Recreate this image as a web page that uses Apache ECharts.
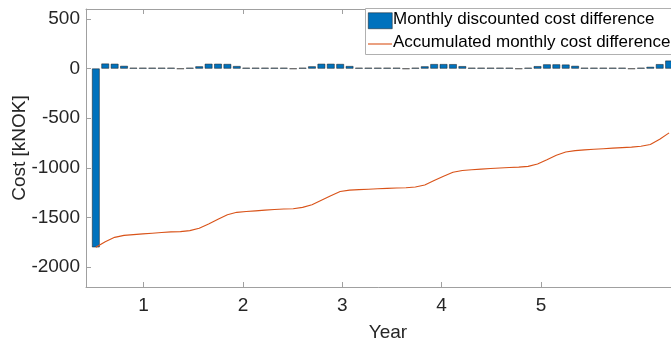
<!DOCTYPE html>
<html>
<head>
<meta charset="utf-8">
<script src="https://cdn.jsdelivr.net/npm/echarts@6/dist/echarts.min.js"></script>
<style>html,body{margin:0;padding:0;background:#fff;}#c{width:671px;height:341px;}</style>
</head>
<body>
<div id="c"></div>
<script>
// Monthly discounted cost difference (kNOK), one value per bar
const monthlyDiff = [-1800, 50, 48, 27, 8, 8, 8, 8, 8, -3, 8, 22,
  48, 48, 46, 25, 8, 8, 8, 8, 8, -3, 8, 22,
  48, 48, 46, 25, 8, 8, 8, 8, 8, -3, 8, 22,
  45, 45, 44, 24, 8, 8, 8, 8, 8, -3, 8, 24,
  42, 42, 40, 27, 8, 8, 8, 8, 8, -3, 8, 17, 44, 80];
// Accumulated monthly cost difference (kNOK)
const accumulated = [-1800, -1745, -1700, -1680, -1672, -1665, -1658, -1651, -1645, -1642, -1632, -1608,
  -1565, -1518, -1472, -1448, -1440, -1433, -1426, -1420, -1415, -1412, -1398, -1372,
  -1326, -1280, -1238, -1224, -1219, -1215, -1211, -1207, -1203, -1201, -1193, -1172,
  -1128, -1084, -1045, -1026, -1019, -1013, -1007, -1001, -996, -993, -985, -962,
  -918, -873, -840, -826, -819, -813, -807, -801, -796, -791, -783, -765, -712, -648];
// Axis ticks
const xTicks = [1, 2, 3, 4, 5];
const yTicks = [-2000, -1500, -1000, -500, 0, 500];
// Time of first sample and spacing between samples (in axis "Year" units)
const xStart = 0.519;
const xStep = 0.0946;

const xs = monthlyDiff.map((_, i) => xStart + i * xStep);
const barData = monthlyDiff.map((v, i) => [xs[i], v]);
const lineData = accumulated.map((v, i) => [xs[i], v]);

const axisGray = '#a0a0a0';
const txt = '#262626';
const font = 'Liberation Sans, Arial, Helvetica, sans-serif';

const chart = echarts.init(document.getElementById('c'), null, {renderer: 'canvas'});
chart.setOption({
  animation: false,
  backgroundColor: '#fff',
  grid: {left: 86, top: 9, width: 604, height: 278, containLabel: false, outerBoundsMode: 'none'},
  xAxis: [{
    type: 'value', min: 0.42, max: 6.5, position: 'bottom',
    name: 'Year', nameLocation: 'middle', nameGap: 36, nameMoveOverlap: false,
    nameTextStyle: {color: txt, fontSize: 19, fontFamily: font},
    axisLine: {show: true, onZero: false, lineStyle: {color: axisGray, width: 1}},
    axisTick: {show: true, inside: true, length: 5, customValues: xTicks, lineStyle: {color: axisGray}},
    axisLabel: {customValues: xTicks, color: txt, fontSize: 19, fontFamily: font, margin: 9, formatter: v => String(v)},
    splitLine: {show: false}
  }, {
    type: 'value', min: 0.42, max: 6.5, position: 'top',
    axisLine: {show: true, onZero: false, lineStyle: {color: axisGray, width: 1}},
    axisTick: {show: true, inside: true, length: 5, customValues: xTicks, lineStyle: {color: axisGray}},
    axisLabel: {show: false},
    splitLine: {show: false}
  }],
  yAxis: [{
    type: 'value', min: -2200, max: 600,
    name: 'Cost [kNOK]', nameLocation: 'middle', nameGap: 57, nameMoveOverlap: false,
    nameTextStyle: {color: txt, fontSize: 19, fontFamily: font},
    axisLine: {show: true, onZero: false, lineStyle: {color: axisGray, width: 1}},
    axisTick: {show: true, inside: true, length: 5, customValues: yTicks, lineStyle: {color: axisGray}},
    axisLabel: {customValues: yTicks, color: txt, fontSize: 19, fontFamily: font, margin: 6, formatter: v => String(v)},
    splitLine: {show: false}
  }],
  series: [{
    name: 'Monthly discounted cost difference',
    type: 'bar', xAxisIndex: 0, yAxisIndex: 0,
    data: barData, barWidth: 7.6,
    itemStyle: {color: '#0072BD', borderColor: '#1a1a1a', borderWidth: 0.5},
    z: 2
  }, {
    name: 'Accumulated monthly cost difference',
    type: 'line', xAxisIndex: 0, yAxisIndex: 0,
    data: lineData, symbol: 'none', smooth: false,
    lineStyle: {color: '#D95319', width: 1.1},
    z: 3
  }],
  graphic: [
    {type: 'rect', left: 365, top: 8, z: 100, shape: {width: 330, height: 46},
      style: {fill: '#fff', stroke: '#b0b0b0', lineWidth: 1}},
    {type: 'rect', left: 368, top: 12.5, z: 101, shape: {width: 24, height: 16},
      style: {fill: '#0072BD', stroke: '#1a1a1a', lineWidth: 0.5}},
    {type: 'line', z: 101, shape: {x1: 368, y1: 44, x2: 392, y2: 44},
      style: {stroke: '#D95319', lineWidth: 1.1}},
    {type: 'text', left: 393, top: 11, z: 101,
      style: {text: 'Monthly discounted cost difference', fill: '#000', fontSize: 17, fontFamily: font}},
    {type: 'text', left: 393, top: 34, z: 101,
      style: {text: 'Accumulated monthly cost difference', fill: '#000', fontSize: 17, fontFamily: font}}
  ]
});
</script>
</body>
</html>
